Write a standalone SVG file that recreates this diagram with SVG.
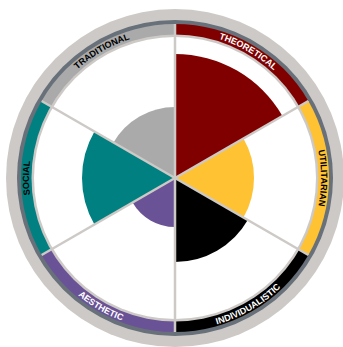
<svg xmlns="http://www.w3.org/2000/svg" width="343" height="347" viewBox="0 0 343 347">
<style>
.lbl{font-family:"Liberation Sans",Arial,sans-serif;font-weight:bold;font-size:9px}
.dk{fill:#000}
.wt{fill:#fff}
.div{stroke:#cdc9c6;stroke-width:2.5;fill:none}
</style>
<defs>
<path id="pTrad" d="M48.56,105 A146,146 0 0 1 175,32"/>
<path id="pTheo" d="M175,32 A146,146 0 0 1 301.44,105"/>
<path id="pUtil" d="M301.44,105 A146,146 0 0 1 301.44,251"/>
<path id="pSoc" d="M48.56,251 A146,146 0 0 1 48.56,105"/>
<path id="pInd" d="M175,330.25 A152.25,152.25 0 0 0 306.85,254.13"/>
<path id="pAes" d="M43.15,254.13 A152.25,152.25 0 0 0 175,330.25"/>
</defs>
<g id="frame">
<circle cx="175" cy="178" r="169" fill="#cdc9c6"/>
<circle cx="175" cy="178" r="158" fill="#68707a"/>
</g>
<g id="bands">
<path d="M175,178 L175,24 A154,154 0 0 1 308.37,101 Z" fill="#800000"/>
<path d="M175,178 L308.37,101 A154,154 0 0 1 308.37,255 Z" fill="#fec233"/>
<path d="M175,178 L308.37,255 A154,154 0 0 1 175,332 Z" fill="#000"/>
<path d="M175,178 L175,332 A154,154 0 0 1 41.63,255 Z" fill="#6a5296"/>
<path d="M175,178 L41.63,255 A154,154 0 0 1 41.63,101 Z" fill="#008080"/>
<path d="M175,178 L41.63,101 A154,154 0 0 1 175,24 Z" fill="#aaaaaa"/>
<circle cx="175" cy="178" r="143.5" fill="#cdc9c6"/>
<circle cx="175" cy="178" r="141" fill="#fff"/>
</g>
<g id="theoretical">
<path d="M175,178 L175,54 A124,124 0 0 1 282.39,116 Z" fill="#800000"/>
<text class="lbl wt"><textPath href="#pTheo" startOffset="50%" text-anchor="middle">THEORETICAL</textPath></text>
</g>
<g id="utilitarian">
<path d="M175,178 L243.42,138.5 A79,79 0 0 1 243.42,217.5 Z" fill="#fec233"/>
<text class="lbl dk"><textPath href="#pUtil" startOffset="50%" text-anchor="middle">UTILITARIAN</textPath></text>
</g>
<g id="individualistic">
<path d="M175,178 L247.75,220 A84,84 0 0 1 175,262 Z" fill="#000"/>
<text class="lbl wt"><textPath href="#pInd" startOffset="50%" text-anchor="middle">INDIVIDUALISTIC</textPath></text>
</g>
<g id="aesthetic">
<path d="M175,178 L175,227 A49,49 0 0 1 132.56,202.5 Z" fill="#6a5296"/>
<text class="lbl wt"><textPath href="#pAes" startOffset="50%" text-anchor="middle">AESTHETIC</textPath></text>
</g>
<g id="social">
<path d="M175,178 L94.46,224.5 A93,93 0 0 1 94.46,131.5 Z" fill="#008080"/>
<text class="lbl dk"><textPath href="#pSoc" startOffset="50%" text-anchor="middle">SOCIAL</textPath></text>
</g>
<g id="traditional">
<path d="M175,178 L113.51,142.5 A71,71 0 0 1 175,107 Z" fill="#aaaaaa"/>
<text class="lbl dk"><textPath href="#pTrad" startOffset="50%" text-anchor="middle">TRADITIONAL</textPath></text>
</g>
<g id="connectors">
<line class="div" x1="175" y1="24" x2="175" y2="332"/>
<line class="div" x1="308.37" y1="101" x2="41.63" y2="255"/>
<line class="div" x1="308.37" y1="255" x2="41.63" y2="101"/>
</g>
</svg>
